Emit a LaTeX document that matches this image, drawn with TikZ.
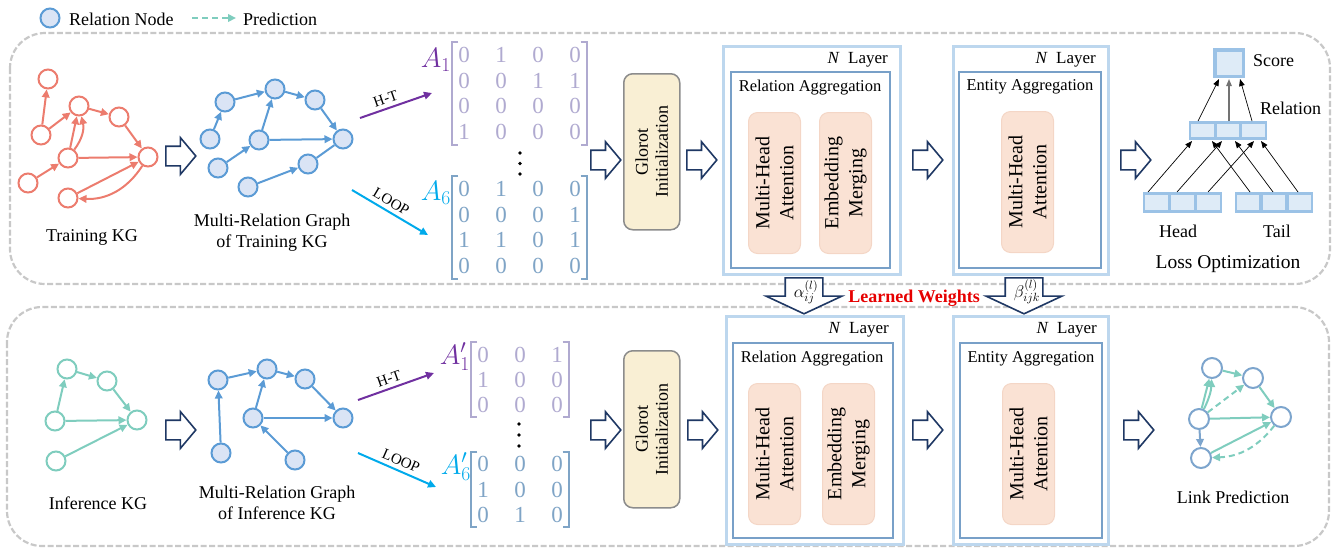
\RequirePackage{fix-cm}
\documentclass[tikz,border=0pt]{standalone}
\usepackage{fontspec}
\setmainfont{Liberation Serif}
\usetikzlibrary{arrows.meta,shapes.arrows,matrix,calc}
\definecolor{kred}{RGB}{236,124,110}
\definecolor{bbord}{RGB}{91,155,213}
\definecolor{bfill}{RGB}{218,228,245}
\definecolor{kteal}{RGB}{127,205,190}
\definecolor{navy}{RGB}{31,56,100}
\definecolor{purp}{RGB}{112,48,160}
\definecolor{cyanc}{RGB}{0,170,235}
\definecolor{mpurp}{RGB}{176,170,208}
\definecolor{mblue}{RGB}{127,164,198}
\definecolor{layo}{RGB}{189,215,238}
\definecolor{layi}{RGB}{120,160,200}
\definecolor{peach}{RGB}{250,226,212}
\definecolor{peachb}{RGB}{244,214,198}
\definecolor{cream}{RGB}{249,239,212}
\definecolor{dashg}{RGB}{200,200,200}
\definecolor{vecb}{RGB}{155,194,230}
\definecolor{vecf}{RGB}{222,235,247}
\definecolor{lpb}{RGB}{125,165,205}
\definecolor{lwred}{RGB}{230,0,0}
\newcommand\fsz[1]{\fontsize{#1}{#1}\selectfont}
\begin{document}
\begin{tikzpicture}[x=1pt,y=-1pt,>={Triangle[length=8pt,width=7.5pt]},
  rn/.style={circle,draw=kred,fill=white,line width=2pt,minimum size=19pt,inner sep=0pt},
  bn/.style={circle,draw=bbord,fill=bfill,line width=2pt,minimum size=19pt,inner sep=0pt},
  tn/.style={circle,draw=kteal,fill=white,line width=2pt,minimum size=19pt,inner sep=0pt},
  ln/.style={circle,draw=lpb,fill=white,line width=2pt,minimum size=20pt,inner sep=0pt},
  re/.style={draw=kred,line width=2pt,->},
  be/.style={draw=bbord,line width=2pt,->},
  te/.style={draw=kteal,line width=2pt,->},
  pred/.style={te,dash pattern=on 6pt off 4pt},
  txt/.style={inner sep=0pt,font=\fsz{18}},
  txtb/.style={inner sep=0pt,align=center,font=\fontsize{18}{21}\selectfont},
  dbox/.style={draw=dashg,line width=2.2pt,dash pattern=on 6pt off 2.5pt,rounded corners=35pt},
  blk/.style={single arrow,draw=navy,fill=white,line width=1.6pt,inner xsep=0pt,inner ysep=9pt,
     single arrow head extend=8.5pt,single arrow tip angle=100,minimum height=30pt,anchor=tail},
  dblk/.style={single arrow,draw=navy,fill=white,line width=1.6pt,inner xsep=0pt,inner ysep=18pt,
     single arrow head extend=19pt,single arrow tip angle=130,minimum height=36pt,anchor=tail,rotate=-90},
  mat/.style={matrix of nodes,inner sep=0pt,nodes={inner sep=0pt,minimum width=37pt,minimum height=25.7pt,font=\fsz{23}}},
  mbrk/.style={line width=1.8pt},
  rlab/.style={sloped,above=4pt,font=\fsz{15},inner sep=0pt},
  glo/.style={rectangle,rounded corners=9pt,fill=cream,draw=black!45,line width=1.5pt,minimum width=56pt,anchor=north west},
  lout/.style={rectangle,draw=layo,line width=2.6pt,inner sep=0pt,anchor=north west},
  lin/.style={rectangle,draw=layi,line width=2.2pt,inner sep=0pt,anchor=north west},
  pch/.style={rectangle,rounded corners=9pt,fill=peach,draw=peachb,line width=1pt,minimum width=52pt,minimum height=141pt,anchor=north west},
  rtxt/.style={rotate=90,align=center,font=\fontsize{20}{24}\selectfont,inner sep=0pt},
  vout/.style={rectangle,fill=vecb,inner sep=0pt},
  vin/.style={rectangle,fill=vecf,inner sep=0pt,minimum width=22.5pt,minimum height=13pt},
  la/.style={draw=black,line width=0.7pt,-{Triangle[length=7pt,width=5.5pt]}}
]
\useasboundingbox (0,0) rectangle (1338,550);

% ---------- dashed frames ----------
\draw[dbox] (10,33) rectangle (1330,284);
\draw[dbox] (7,307) rectangle (1329,546);

% ---------- legend ----------
\node[bn] (legn) at (50,18) {};
\node[txt,anchor=west] (legt) at (69,19) {Relation Node};
\coordinate (lpa) at (192,18);
\coordinate (lpb) at (236,18);
\draw[pred,line width=2.5pt] (lpa) -- (lpb);
\node[txt,anchor=west] (legp) at (243,19) {Prediction};

% ---------- Training KG ----------
\node[rn] (t1) at (48,79) {};
\node[rn] (t2) at (79,106) {};
\node[rn] (t3) at (119,117) {};
\node[rn] (t4) at (41,135) {};
\node[rn] (t5) at (68,158) {};
\node[rn] (t6) at (148,157) {};
\node[rn] (t7) at (28,183) {};
\node[rn] (t8) at (68,198) {};
\draw[re] (t4) -- (t1);
\draw[re] (t4) -- (t2);
\draw[re] (t5) -- (t2);
\draw[re] (t5) to[bend right=25] (t2);
\draw[re] (t2) -- (t3);
\draw[re] (t3) -- (t6);
\draw[re] (t5) -- (t6);
\draw[re] (t7) -- (t5);
\draw[re] (t8) -- (t6);
\draw[re] (t6) to[bend left=30] (t8);
\node[txt] (tkg) at (92,237) {Training KG};

\node[blk] (ba1) at (165,156) {};

% ---------- Multi-relation graph (training) ----------
\node[bn] (m1) at (225,102) {};
\node[bn] (m2) at (275,89) {};
\node[bn] (m3) at (315,100) {};
\node[bn] (m4) at (210,139) {};
\node[bn] (m5) at (259,140) {};
\node[bn] (m6) at (343,139) {};
\node[bn] (m7) at (218,168) {};
\node[bn] (m8) at (308,164) {};
\node[bn] (m9) at (248,187) {};
\draw[be] (m4) -- (m1);
\draw[be] (m1) -- (m2);
\draw[be] (m2) -- (m3);
\draw[be] (m3) -- (m6);
\draw[be] (m5) -- (m2);
\draw[be] (m5) -- (m6);
\draw[be] (m7) -- (m5);
\draw[be] (m9) -- (m8);
\draw[draw=bbord,line width=2pt] (m8) -- (m6);
\node[txtb] (mrg1) at (272,233) {Multi-Relation Graph\\of Training KG};

% ---------- relation arrows & matrices (top) ----------
\coordinate (hts) at (360,118); \coordinate (hte) at (432,93);
\draw[draw=purp,line width=2pt,->] (hts) -- node[rlab,pos=0.4] (htl) {H-T} (hte);
\coordinate (lps) at (352,190); \coordinate (lpe) at (428,235);
\draw[draw=cyanc,line width=2pt,->] (lps) -- node[rlab,pos=0.45] (lpl) {LOOP} (lpe);

\node[anchor=east,inner sep=0pt,text=purp,font=\fsz{28}] (A1) at (451,60) {$A_1$};
\matrix (MA1) [mat,nodes={text=mpurp}] at (519.5,93.5) {
0 & 1 & 0 & 0\\ 0 & 0 & 1 & 1\\ 0 & 0 & 0 & 0\\ 1 & 0 & 0 & 0\\};
\draw[mbrk,draw=mpurp] ([xshift=13pt]MA1.north west) -- ([xshift=6.5pt]MA1.north west) -- ([xshift=6.5pt]MA1.south west) -- ([xshift=13pt]MA1.south west);
\draw[mbrk,draw=mpurp] ([xshift=-13pt]MA1.north east) -- ([xshift=-6.5pt]MA1.north east) -- ([xshift=-6.5pt]MA1.south east) -- ([xshift=-13pt]MA1.south east);
\fill (520,153) circle (1.8pt) (520,163.5) circle (1.8pt) (520,174) circle (1.8pt);
\node[anchor=east,inner sep=0pt,text=cyanc,font=\fsz{28}] (A6) at (451,193) {$A_6$};
\matrix (MA6) [mat,nodes={text=mblue}] at (519.5,227.5) {
0 & 1 & 0 & 0\\ 0 & 0 & 0 & 1\\ 1 & 1 & 0 & 1\\ 0 & 0 & 0 & 0\\};
\draw[mbrk,draw=mblue] ([xshift=13pt]MA6.north west) -- ([xshift=6.5pt]MA6.north west) -- ([xshift=6.5pt]MA6.south west) -- ([xshift=13pt]MA6.south west);
\draw[mbrk,draw=mblue] ([xshift=-13pt]MA6.north east) -- ([xshift=-6.5pt]MA6.north east) -- ([xshift=-6.5pt]MA6.south east) -- ([xshift=-13pt]MA6.south east);

\node[blk] (ba2) at (590,160) {};

% ---------- Glorot (top) ----------
\node[glo,minimum height=156pt] (g1) at (623,73) {};
\node[rtxt,font=\fontsize{18}{20}\selectfont] (g1t) at (g1.center) {Glorot\\Initialization};
\node[blk] (ba3) at (686,160) {};

% ---------- Relation aggregation (top) ----------
\node[lout,minimum width=177pt,minimum height=228pt] (LR1) at (722,45) {};
\node[lin,minimum width=159pt,minimum height=196pt] (IR1) at (730,71) {};
\node[anchor=east,inner sep=0pt,font=\fsz{17}] (nl1) at (888,60) {\textit{N}\enspace Layer};
\node[inner sep=0pt,font=\fsz{16.5}] (ra1) at (810,88) {Relation Aggregation};
\node[pch] (pa1) at (748,112) {};
\node[rtxt] (pa1t) at (pa1.center) {Multi-Head\\Attention};
\node[pch] (pb1) at (819,112) {};
\node[rtxt] (pb1t) at (pb1.center) {Embedding\\Merging};
\node[blk] (ba4) at (912,160) {};

% ---------- Entity aggregation (top) ----------
\node[lout,minimum width=155pt,minimum height=228pt] (LE1) at (952,45) {};
\node[lin,minimum width=142pt,minimum height=196pt] (IE1) at (958,71) {};
\node[anchor=east,inner sep=0pt,font=\fsz{17}] (nl2) at (1096,60) {\textit{N}\enspace Layer};
\node[inner sep=0pt,font=\fsz{16.5}] (ea1) at (1030,87) {Entity Aggregation};
\node[pch] (pc1) at (1001,111) {};
\node[rtxt] (pc1t) at (pc1.center) {Multi-Head\\Attention};
\node[blk] (ba5) at (1120,160) {};

% ---------- Loss optimization ----------
\node[vout,minimum width=32pt,minimum height=30pt] (sc) at (1229,63) {};
\node[rectangle,fill=vecf,inner sep=0pt,minimum width=25pt,minimum height=23pt] (sci) at (sc.center) {};
\node[txt,anchor=west] (sct) at (1253,61) {Score};
\node[vout,minimum width=78pt,minimum height=19pt] (rv) at (1228,130.5) {};
\node[vin] (r1) at ($(rv.center)+(-25.5,0)$) {};
\node[vin] (r2) at (rv.center) {};
\node[vin] (r3) at ($(rv.center)+(25.5,0)$) {};
\node[txt,anchor=west] (rvt) at (1260,108) {Relation};
\node[vout,minimum width=79pt,minimum height=21pt] (hv) at (1182.5,202.5) {};
\node[vin,minimum height=15pt] (h1) at ($(hv.center)+(-26,0)$) {};
\node[vin,minimum height=15pt] (h2) at (hv.center) {};
\node[vin,minimum height=15pt] (h3) at ($(hv.center)+(26,0)$) {};
\node[vout,minimum width=78pt,minimum height=21pt] (tv) at (1274,202.5) {};
\node[vin,minimum height=15pt] (k1) at ($(tv.center)+(-26,0)$) {};
\node[vin,minimum height=15pt] (k2) at (tv.center) {};
\node[vin,minimum height=15pt] (k3) at ($(tv.center)+(26,0)$) {};
\node[txt] (hdt) at (1178,231) {Head};
\node[txt] (tlt) at (1277,231) {Tail};
\node[inner sep=0pt,font=\fsz{19.5}] (lot) at (1228,264) {Loss Optimization};
\coordinate (sb1) at (1219,79); \coordinate (sb2) at (1229,79); \coordinate (sb3) at (1240,79);
\coordinate (rt1) at (1198,121); \coordinate (rt2) at (1229,121); \coordinate (rt3) at (1252,121);
\draw[la] (rt1) -- (sb1);
\draw[la,draw=black!55,line width=1.3pt] (rt2) -- (sb2);
\draw[la] (rt3) -- (sb3);
\coordinate (hs1) at (1148,192); \coordinate (hs2) at (1177,192); \coordinate (hs3) at (1208,192);
\coordinate (ks1) at (1250,192); \coordinate (ks2) at (1273,192); \coordinate (ks3) at (1298,192);
\coordinate (rb1) at (1192,141); \coordinate (rb2) at (1222,141); \coordinate (rb3) at (1254,141);
\coordinate (rb4) at (1212,141); \coordinate (rb5) at (1235,141); \coordinate (rb6) at (1261,141);
\draw[la] (hs1) -- (rb1);
\draw[la] (hs2) -- (rb2);
\draw[la] (hs3) -- (rb3);
\draw[la] (ks1) -- (rb4);
\draw[la] (ks2) -- (rb5);
\draw[la] (ks3) -- (rb6);

% ---------- Learned weights ----------
\node[dblk] (da) at (804,277) {};
\node[inner sep=0pt,font=\fsz{17}] (dat) at (806,292) {$\alpha_{ij}^{(l)}$};
\node[dblk] (db) at (1024,277) {};
\node[inner sep=0pt,font=\fsz{17}] (dbt) at (1027,292) {$\beta_{ijk}^{(l)}$};
\node[inner sep=0pt,font=\bfseries\fsz{18},text=lwred] (lw) at (914,298) {Learned Weights};

% ---------- Inference KG ----------
\node[tn] (i1) at (67,369) {};
\node[tn] (i2) at (107,381) {};
\node[tn] (i3) at (55,421) {};
\node[tn] (i4) at (137,420) {};
\node[tn] (i5) at (56,461) {};
\draw[te] (i3) -- (i1);
\draw[te] (i1) -- (i2);
\draw[te] (i2) -- (i4);
\draw[te] (i3) -- (i4);
\draw[te] (i5) -- (i4);
\node[txt] (ikg) at (98,503) {Inference KG};
\node[blk] (bb1) at (165,430) {};

% ---------- Multi-relation graph (inference) ----------
\node[bn] (p1) at (218,380) {};
\node[bn] (p2) at (267,369) {};
\node[bn] (p3) at (305,379) {};
\node[bn] (p4) at (253,418) {};
\node[bn] (p5) at (343,418) {};
\node[bn] (p6) at (221,453) {};
\node[bn] (p7) at (295,460) {};
\draw[be] (p6) -- (p1);
\draw[be] (p1) -- (p2);
\draw[be] (p4) -- (p2);
\draw[be] (p2) -- (p3);
\draw[be] (p3) -- (p5);
\draw[be] (p4) -- (p5);
\draw[be] (p7) -- (p4);
\node[txtb] (mrg2) at (277,503) {Multi-Relation Graph\\of Inference KG};

% ---------- relation arrows & matrices (bottom) ----------
\coordinate (hts2) at (358,400); \coordinate (hte2) at (434,373);
\draw[draw=purp,line width=2pt,->] (hts2) -- node[rlab,pos=0.45] (htl2) {H-T} (hte2);
\coordinate (lps2) at (358,453); \coordinate (lpe2) at (436,487);
\draw[draw=cyanc,line width=2pt,->] (lps2) -- node[rlab,pos=0.5] (lpl2) {LOOP} (lpe2);

\node[anchor=east,inner sep=0pt,text=purp,font=\fsz{28}] (B1) at (470,357) {$A'_1$};
\matrix (MB1) [mat,nodes={text=mpurp,minimum height=25pt}] at (520,379.5) {
0 & 0 & 1\\ 1 & 0 & 0\\ 0 & 0 & 0\\};
\draw[mbrk,draw=mpurp] ([xshift=13pt]MB1.north west) -- ([xshift=6.5pt]MB1.north west) -- ([xshift=6.5pt]MB1.south west) -- ([xshift=13pt]MB1.south west);
\draw[mbrk,draw=mpurp] ([xshift=-13pt]MB1.north east) -- ([xshift=-6.5pt]MB1.north east) -- ([xshift=-6.5pt]MB1.south east) -- ([xshift=-13pt]MB1.south east);
\fill (519,424) circle (1.8pt) (519,435) circle (1.8pt) (519,446) circle (1.8pt);
\node[anchor=east,inner sep=0pt,text=cyanc,font=\fsz{28}] (B6) at (471,467) {$A'_6$};
\matrix (MB6) [mat,nodes={text=mblue,minimum height=25pt}] at (520,489.5) {
0 & 0 & 0\\ 1 & 0 & 0\\ 0 & 1 & 0\\};
\draw[mbrk,draw=mblue] ([xshift=13pt]MB6.north west) -- ([xshift=6.5pt]MB6.north west) -- ([xshift=6.5pt]MB6.south west) -- ([xshift=13pt]MB6.south west);
\draw[mbrk,draw=mblue] ([xshift=-13pt]MB6.north east) -- ([xshift=-6.5pt]MB6.north east) -- ([xshift=-6.5pt]MB6.south east) -- ([xshift=-13pt]MB6.south east);

\node[blk] (bb2) at (590,430) {};

% ---------- Glorot (bottom) ----------
\node[glo,minimum height=157pt] (g2) at (623,350) {};
\node[rtxt,font=\fontsize{18}{20}\selectfont] (g2t) at (g2.center) {Glorot\\Initialization};
\node[blk] (bb3) at (687,430) {};

% ---------- Relation aggregation (bottom) ----------
\node[lout,minimum width=177pt,minimum height=228pt] (LR2) at (725,315) {};
\node[lin,minimum width=160pt,minimum height=195pt] (IR2) at (732,342) {};
\node[anchor=east,inner sep=0pt,font=\fsz{17}] (nl3) at (889,330) {\textit{N}\enspace Layer};
\node[inner sep=0pt,font=\fsz{16.5}] (ra2) at (812,359) {Relation Aggregation};
\node[pch] (pa2) at (748,383) {};
\node[rtxt] (pa2t) at (pa2.center) {Multi-Head\\Attention};
\node[pch] (pb2) at (822,383) {};
\node[rtxt] (pb2t) at (pb2.center) {Embedding\\Merging};
\node[blk] (bb4) at (912,430) {};

% ---------- Entity aggregation (bottom) ----------
\node[lout,minimum width=155pt,minimum height=228pt] (LE2) at (952,315) {};
\node[lin,minimum width=142pt,minimum height=195pt] (IE2) at (959,342) {};
\node[anchor=east,inner sep=0pt,font=\fsz{17}] (nl4) at (1097,330) {\textit{N}\enspace Layer};
\node[inner sep=0pt,font=\fsz{16.5}] (ea2) at (1031,359) {Entity Aggregation};
\node[pch] (pc2) at (1002,383) {};
\node[rtxt] (pc2t) at (pc2.center) {Multi-Head\\Attention};
\node[blk] (bb5) at (1123,430) {};

% ---------- Link prediction ----------
\node[ln] (l1) at (1212,368) {};
\node[ln] (l2) at (1253,378) {};
\node[ln] (l3) at (1199,419) {};
\node[ln] (l4) at (1281,417) {};
\node[ln] (l5) at (1201,458) {};
\draw[te] (l3) -- (l1);
\draw[te] (l3) to[bend right=12] (l1);
\draw[te] (l1) -- (l2);
\draw[te] (l2) -- (l4);
\draw[te] (l3) -- (l4);
\draw[draw=lpb,line width=2pt,->] (l3) -- (l5);
\draw[te] (l5) -- (l4);
\draw[pred] (l4) to[bend left=25] (l5);
\draw[pred] (l3) -- (l2);
\node[txt] (lpt) at (1233,497) {Link Prediction};

\end{tikzpicture}
\end{document}
